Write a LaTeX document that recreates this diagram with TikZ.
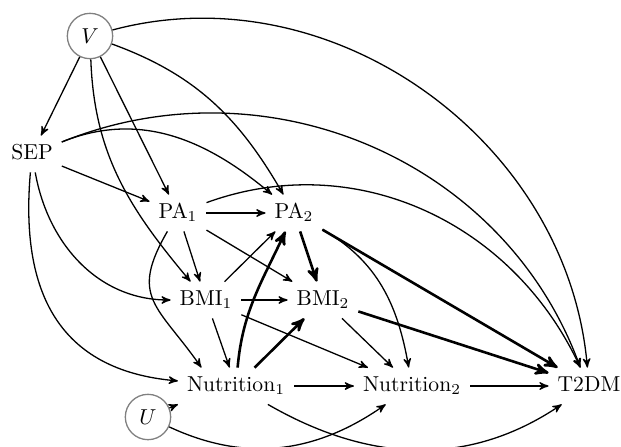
\documentclass[tikz,border=0pt]{standalone}
\usepackage{amsmath}
\usepackage{xcolor}
\usetikzlibrary{arrows}
\usetikzlibrary{calc}

\tikzset{
  var/.style={inner sep=4pt, text height=1.6ex, text depth=0.4ex},
  latent/.style={circle, draw=gray, semithick, minimum size=21pt, inner sep=0pt},
  eff/.style={->, semithick},
  strong/.style={->, very thick}
}

\begin{document}
\begin{tikzpicture}[x=0.463pt, y=0.463pt, >=stealth']

      \useasboundingbox (0,0) rectangle (621,446);

      \node[latent] (V) at (90,410) {$V$};
      \node[latent] (U) at (148,29) {$U$};

      \node[var] (SEP) at (32,292) {SEP};
      \node[var] (PA1) at (178,233) {PA$_1$};
      \node[var] (PA2) at (294,233) {PA$_2$};
      \node[var] (BMI1) at (206,146) {BMI$_1$};
      \node[var] (BMI2) at (323,146) {BMI$_2$};
      \node[var] (N1) at (236,60) {Nutrition$_1$};
      \node[var] (N2) at (412,60) {Nutrition$_2$};
      \node[var] (T2DM) at (589,60) {T2DM};

      % baseline
      \draw[eff] (V) -- (SEP);
      \draw[eff] (V) -- (PA1);
      \draw[eff] (V) to[out=-88,in=130] (BMI1);
      \draw[eff] (V) to[out=-20,in=120] (PA2);
      \draw[eff] (V) to[out=15,in=95] (T2DM);

      \draw[eff] (SEP) -- (PA1);
      \draw[eff] (SEP) to[out=22,in=140] (PA2);
      \draw[eff] (SEP) to[out=22,in=110] ([xshift=-4pt]T2DM.north);
      \draw[eff] (SEP) to[out=-80,in=180] (BMI1);
      \draw[eff] (SEP) to[out=-95,in=175,looseness=1.2] (N1);

      % first wave
      \draw[eff] (PA1) -- (PA2);
      \draw[eff] (PA1) -- (BMI1);
      \draw[eff] (PA1) -- (BMI2);
      \draw[eff] (PA1) to[out=-120,in=125,looseness=1.4] ([xshift=-16pt]N1.north);
      \draw[eff] (PA1) to[out=20,in=115] ([xshift=-4pt]T2DM.north);

      \draw[eff] (BMI1) -- (PA2);
      \draw[eff] (BMI1) -- (BMI2);
      \draw[eff] (BMI1) -- (N1);
      \draw[eff] (BMI1) -- (N2);

      \draw[strong] (N1) to[out=85,in=-115] (PA2);
      \draw[strong] (N1) -- (BMI2);
      \draw[eff] (N1) -- (N2);
      \draw[eff] (N1) to[out=-30,in=-146] (T2DM);

      % second wave
      \draw[strong] (PA2) -- (BMI2);
      \draw[strong] (PA2) -- (T2DM);
      \draw[eff] (PA2) to[out=-30,in=100] (N2);

      \draw[eff] (BMI2) -- (N2);
      \draw[strong] (BMI2) -- (T2DM);

      \draw[eff] (N2) -- (T2DM);

      \draw[eff] (U) -- (N1.south west);
      \draw[eff] (U) to[out=-25,in=-145] (N2);
    \end{tikzpicture}
\end{document}
